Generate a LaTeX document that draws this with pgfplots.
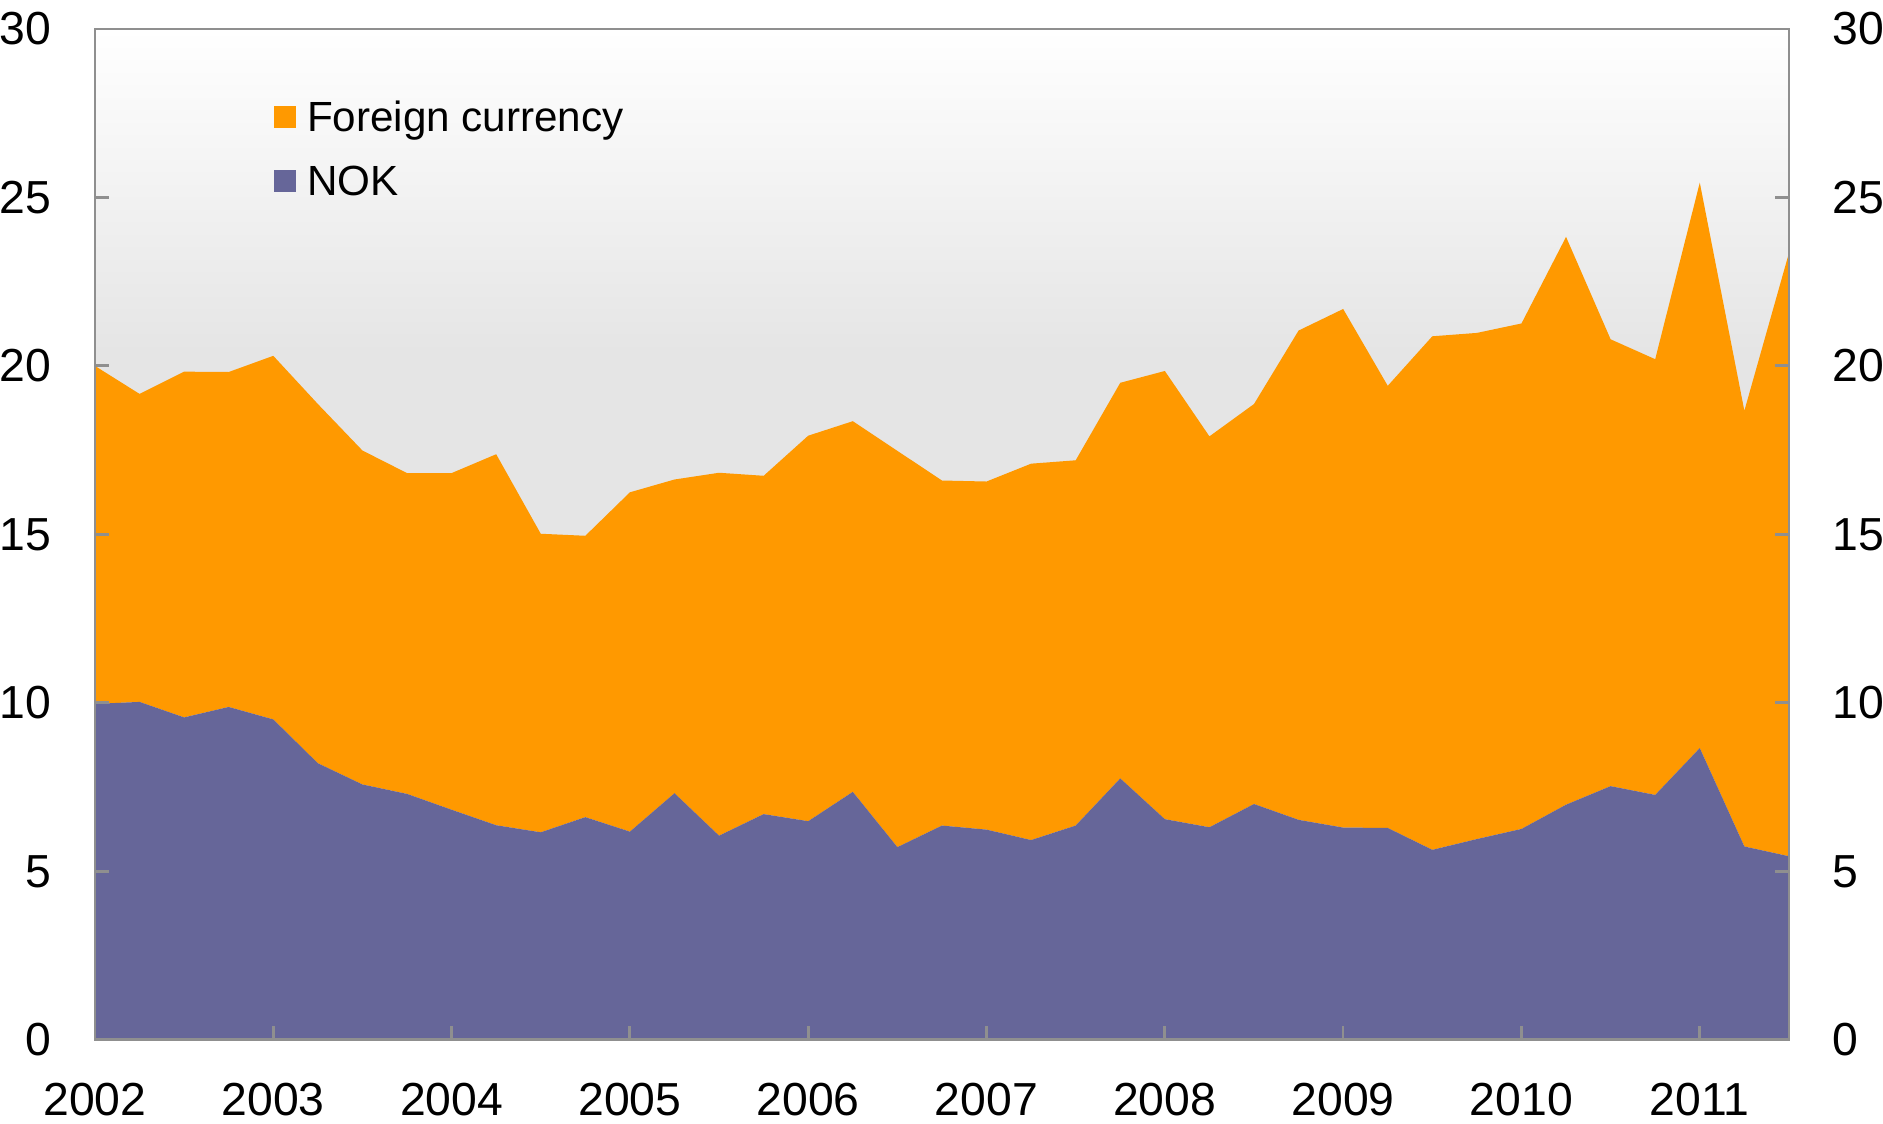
\documentclass[border=0pt]{standalone}
\usepackage{fontspec}
\setmainfont{Liberation Sans}
\usepackage{pgfplots}
\pgfplotsset{compat=1.18}
\usepackage{pgfplotstable}
\definecolor{fc}{HTML}{FF9900}
\definecolor{nok}{HTML}{666699}
\definecolor{axisgray}{HTML}{8F8F8F}
\definecolor{bgg}{HTML}{E5E5E5}
\pgfdeclareverticalshading{plotbg}{100bp}{color(0bp)=(bgg); color(25bp)=(bgg); color(59bp)=(bgg); color(75bp)=(white); color(100bp)=(white)}

% quarterly, per cent
\pgfplotstableread{
year     nok    foreign
2002.00  9.97   10.03
2002.25  10.03  9.14
2002.50  9.57   10.26
2002.75  9.88   9.94
2003.00  9.51   10.79
2003.25  8.21   10.66
2003.50  7.58   9.91
2003.75  7.30   9.52
2004.00  6.83   9.99
2004.25  6.37   11.01
2004.50  6.16   8.86
2004.75  6.61   8.35
2005.00  6.18   10.07
2005.25  7.32   9.31
2005.50  6.06   10.77
2005.75  6.70   10.04
2006.00  6.49   11.44
2006.25  7.36   11.00
2006.50  5.72   11.76
2006.75  6.36   10.24
2007.00  6.24   10.33
2007.25  5.93   11.17
2007.50  6.36   10.84
2007.75  7.76   11.74
2008.00  6.55   13.30
2008.25  6.31   11.60
2008.50  7.00   11.87
2008.75  6.53   14.52
2009.00  6.30   15.39
2009.25  6.29   13.12
2009.50  5.64   15.24
2009.75  5.96   15.02
2010.00  6.26   15.00
2010.25  6.98   16.85
2010.50  7.53   13.26
2010.75  7.27   12.93
2011.00  8.66   16.78
2011.25  5.74   12.93
2011.50  5.45   17.90
}\debt

\pgfplotsset{
  base/.style={
    at={(0,0)}, anchor=south west,
    scale only axis, width=14.394cm, height=8.590cm,
    xmin=2002, xmax=2011.5, ymin=0, ymax=30,
    ytick={0,5,...,30},
    /pgf/number format/assume math mode=true,
    ticklabel style={font=\fontsize{11.2}{13}\selectfont},
  },
}

\begin{document}
\begin{tikzpicture}
  \useasboundingbox (-0.807,-0.714) rectangle (15.193,8.836);
  \begin{axis}[
    base,
    axis background/.style={shading=plotbg},
    axis on top,
    xtick={2002,...,2011},
    x tick label style={/pgf/number format/1000 sep={}, anchor=north, inner sep=0pt, yshift=-0.357cm},
    y tick label style={anchor=east, inner sep=0pt, xshift=-0.365cm},
    axis line style={draw=axisgray, line width=0.7pt},
    tick style={draw=axisgray, line width=0.7pt},
    major tick length=0.119cm,
    tick align=inside,
    xtick pos=bottom, ytick pos=both,
    stack plots=y,
    reverse legend,
    legend cell align=left,
    legend image code/.code={\path[#1, draw=none] (0cm,0.034cm) rectangle (0.187cm,0.221cm);},
    legend style={at={(0.1057,0.9308)}, anchor=north west, draw=none, fill=none,
      inner sep=0pt, outer sep=0pt, row sep=0.184cm, column sep=0.094cm,
      font=\fontsize{10.2}{12}\selectfont,
      cells={anchor=base west},
      nodes={inner sep=0pt, text height=0.28cm, text depth=0.08cm}},
  ]
    \addplot[fill=nok, draw=none] table[x=year, y=nok] {\debt} \closedcycle;
    \addlegendentry{NOK}
    \addplot[fill=fc, draw=none] table[x=year, y=foreign] {\debt} \closedcycle;
    \addlegendentry{Foreign currency}
  \end{axis}
  % right-hand tick labels
  \begin{axis}[
    base,
    xtick=\empty,
    yticklabel pos=right,
    y tick label style={anchor=west, inner sep=0pt, xshift=0.365cm},
    axis line style={draw=none},
    tick style={draw=none},
  ]
  \end{axis}
\end{tikzpicture}
\end{document}
